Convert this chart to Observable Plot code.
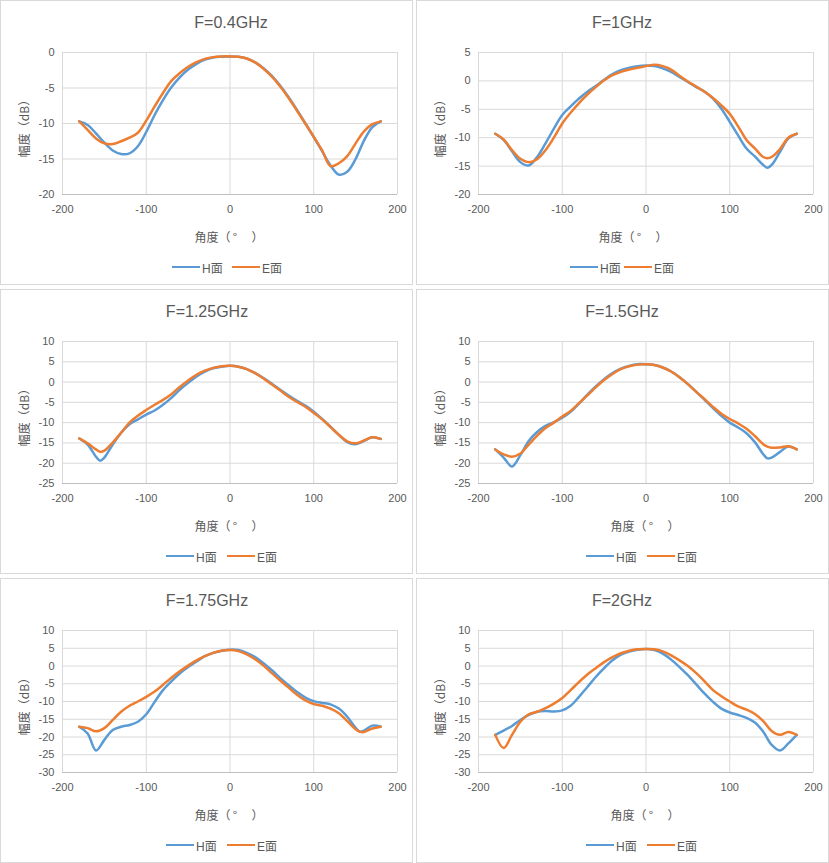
<!DOCTYPE html>
<html lang="zh-CN"><head><meta charset="utf-8">
<script src="https://cdn.jsdelivr.net/npm/d3@7"></script>
<script src="https://cdn.jsdelivr.net/npm/@observablehq/plot@0.6"></script>
<style>
html,body{margin:0;padding:0;background:#fff;}
body{width:829px;height:863px;position:relative;overflow:hidden;font-family:"Liberation Sans","Noto Sans CJK SC",sans-serif;color:#595959;}
.panel{position:absolute;width:413px;height:285px;box-sizing:border-box;border:1px solid #d9d9d9;background:#fff;}
.title{position:absolute;top:12px;font-size:16px;line-height:20px;white-space:nowrap;transform:translateX(-50%);}
.chart{position:absolute;left:-1px;top:39px;}
.leg{position:absolute;top:258px;height:16px;display:flex;align-items:center;font-size:12px;white-space:nowrap;}
.sw{display:inline-block;width:28px;height:2.5px;margin-right:2px;}
</style></head><body>
<script>
// ---- data ----
const titles = ["F=0.4GHz", "F=1GHz", "F=1.25GHz", "F=1.5GHz", "F=1.75GHz", "F=2GHz"];
const seriesNames = ["H面", "E面"];
const xLabel = "角度（\u2009°\u2003\u2009）";
const yLabel = "幅度（dB）";
const xTicks = [-200, -100, 0, 100, 200];
const yTicks04 = [0, -5, -10, -15, -20];
const yTicks1 = [5, 0, -5, -10, -15, -20];
const yTicks15 = [10, 5, 0, -5, -10, -15, -20, -25];
const yTicks2 = [10, 5, 0, -5, -10, -15, -20, -25, -30];

const angles04 = [-180,-170,-160,-150,-140,-130,-120,-110,-100,-90,-80,-70,-60,-50,-40,-30,-20,-10,0,10,20,30,40,50,60,70,80,90,100,110,120,130,140,150,160,170,180];
const h04 = [-9.7,-10.2,-11.4,-12.7,-13.8,-14.3,-14.2,-13.2,-11.2,-8.8,-6.7,-4.9,-3.5,-2.4,-1.6,-1.0,-0.7,-0.6,-0.55,-0.6,-0.85,-1.4,-2.2,-3.3,-4.7,-6.3,-8.1,-10.0,-11.9,-13.9,-15.9,-17.2,-16.8,-15.0,-12.4,-10.5,-9.7];
const e04 = [-9.7,-10.9,-12.1,-12.8,-12.9,-12.5,-12.0,-11.3,-9.6,-7.6,-5.7,-4.0,-2.9,-2.0,-1.35,-0.9,-0.65,-0.55,-0.55,-0.6,-0.85,-1.4,-2.3,-3.4,-4.8,-6.4,-8.2,-10.0,-11.9,-13.8,-16.0,-15.6,-14.6,-12.8,-11.1,-10.1,-9.7];

const angles1 = [-180,-170,-160,-150,-140,-130,-120,-110,-100,-90,-80,-70,-60,-50,-40,-30,-20,-10,0,10,20,30,40,50,60,70,80,90,100,110,120,130,140,145,150,160,170,180];
const h1 = [-9.3,-10.4,-12.4,-14.3,-14.9,-13.4,-11.0,-8.4,-6.0,-4.5,-3.1,-1.9,-0.9,0.2,1.2,1.9,2.3,2.6,2.7,2.6,2.2,1.6,0.7,-0.2,-1.1,-1.9,-3.1,-4.9,-7.2,-9.6,-11.9,-13.3,-14.8,-15.3,-14.8,-12.5,-10.1,-9.3];
const e1 = [-9.3,-10.3,-12.2,-13.7,-14.3,-13.8,-12.2,-10.0,-7.5,-5.6,-3.9,-2.4,-1.1,0.1,1.0,1.6,2.0,2.3,2.6,2.85,2.6,2.0,0.9,-0.1,-1.0,-1.9,-3.0,-4.3,-5.8,-8.0,-10.4,-11.9,-13.4,-13.6,-13.4,-12.0,-10.0,-9.3];

const angles125 = [-180,-170,-160,-155,-150,-140,-130,-120,-110,-100,-90,-80,-70,-60,-50,-40,-30,-20,-10,0,10,20,30,40,50,60,70,80,90,100,110,120,130,140,150,160,170,180];
const h125 = [-13.9,-15.4,-18.4,-19.4,-18.6,-15.4,-12.5,-10.4,-9.2,-8.0,-7.0,-5.6,-3.9,-1.9,-0.2,1.4,2.6,3.4,3.8,4.0,3.8,3.2,2.2,1.0,-0.4,-1.9,-3.3,-4.6,-5.8,-7.3,-9.1,-11.0,-13.0,-14.8,-15.3,-14.5,-13.6,-14.0];
const e125 = [-13.9,-15.1,-16.6,-17.2,-16.9,-14.9,-12.5,-10.0,-8.3,-6.9,-5.6,-4.4,-3.0,-1.2,0.4,1.8,2.8,3.5,3.9,4.0,3.8,3.2,2.2,0.9,-0.6,-2.1,-3.6,-4.9,-6.1,-7.6,-9.2,-11.1,-13.0,-14.6,-15.1,-14.4,-13.6,-14.0];

const angles15 = [-180,-170,-160,-150,-140,-130,-120,-110,-100,-90,-80,-70,-60,-50,-40,-30,-20,-10,0,10,20,30,40,50,60,70,80,90,100,110,120,130,140,145,150,160,170,180];
const h15 = [-16.6,-18.6,-20.8,-18.0,-14.5,-12.3,-10.8,-9.9,-8.8,-7.3,-5.3,-3.1,-1.1,0.7,2.2,3.3,4.0,4.4,4.4,4.2,3.6,2.6,1.2,-0.5,-2.4,-4.4,-6.4,-8.3,-10.0,-11.2,-12.6,-14.8,-17.8,-18.8,-18.6,-17.2,-15.9,-16.6];
const e15 = [-16.6,-17.8,-18.4,-17.6,-15.4,-13.2,-11.3,-10.0,-8.5,-7.1,-5.2,-3.3,-1.3,0.5,2.0,3.2,3.9,4.3,4.4,4.2,3.6,2.6,1.2,-0.5,-2.4,-4.2,-6.1,-7.8,-9.1,-10.2,-11.5,-13.3,-15.3,-15.9,-16.2,-16.1,-15.8,-16.6];

const angles175 = [-180,-170,-160,-150,-140,-130,-120,-110,-100,-90,-80,-70,-60,-50,-40,-30,-20,-10,0,10,20,30,40,50,60,70,80,90,100,110,120,130,140,150,155,160,170,180];
const h175 = [-17.1,-19.0,-23.8,-20.8,-18.0,-17.1,-16.6,-15.7,-13.6,-10.1,-6.8,-4.3,-2.1,-0.3,1.3,2.8,3.7,4.3,4.6,4.5,3.7,2.5,0.8,-1.2,-3.4,-5.4,-7.3,-8.9,-9.9,-10.4,-10.8,-12.0,-14.3,-17.4,-18.5,-18.2,-16.8,-17.1];
const e175 = [-17.1,-17.5,-18.4,-17.5,-15.2,-12.9,-11.2,-10.0,-8.7,-7.2,-5.3,-3.3,-1.5,0.1,1.6,2.8,3.7,4.3,4.5,4.2,3.3,1.9,0.1,-2.0,-4.1,-6.1,-8.1,-9.7,-10.7,-11.2,-12.0,-13.3,-15.5,-17.8,-18.5,-18.6,-17.6,-17.1];

const angles2 = [-180,-170,-160,-150,-140,-130,-120,-110,-100,-90,-80,-70,-60,-50,-40,-30,-20,-10,0,10,20,30,40,50,60,70,80,90,100,110,120,130,140,150,160,170,180];
const h2 = [-19.4,-18.2,-16.9,-15.2,-13.8,-12.9,-12.7,-12.8,-12.5,-11.2,-8.7,-5.9,-3.1,-0.6,1.6,3.2,4.1,4.6,4.8,4.5,3.5,1.8,-0.3,-2.6,-5.2,-7.8,-10.1,-12.0,-13.1,-13.8,-14.6,-15.9,-18.5,-22.2,-23.8,-21.8,-19.4];
const e2 = [-19.4,-23.1,-19.4,-15.7,-13.6,-12.9,-11.9,-10.6,-9.0,-6.8,-4.5,-2.4,-0.6,1.1,2.5,3.6,4.3,4.7,4.8,4.7,4.1,3.0,1.6,0.0,-2.0,-4.3,-6.8,-8.5,-10.0,-11.4,-12.3,-13.5,-15.5,-18.3,-19.4,-18.6,-19.4];

// ---- layout / style (not data) ----
const panelLeft = [0, 416, 0, 416, 0, 416];
const panelTop = [0, 0, 289, 289, 578, 578];
const titleX = [231, 206, 207, 206, 207, 206];
const xLabelDx = [-1, -13, -1, -1, -1, -1];
const legendLeft = [171, 153, 165, 169, 165, 169];
const legendStep = [60, 54, 61, 61, 61, 61];
const colors = ["#5B9BD5", "#ED7D31"];
const FONT = '"Liberation Sans","Noto Sans CJK SC",sans-serif';
const CJK = '"Noto Sans CJK SC",sans-serif';
const fmt = d => String(d);

const panels = [
  {angles: angles04, h: h04, e: e04, ticks: yTicks04},
  {angles: angles1, h: h1, e: e1, ticks: yTicks1},
  {angles: angles125, h: h125, e: e125, ticks: yTicks15},
  {angles: angles15, h: h15, e: e15, ticks: yTicks15},
  {angles: angles175, h: h175, e: e175, ticks: yTicks2},
  {angles: angles2, h: h2, e: e2, ticks: yTicks2}
];

panels.forEach((p, i) => {
  const div = document.createElement("div");
  div.className = "panel";
  div.style.left = panelLeft[i] + "px";
  div.style.top = panelTop[i] + "px";
  document.body.appendChild(div);

  const t = document.createElement("div");
  t.className = "title";
  t.style.left = (titleX[i] - 1) + "px";
  t.textContent = titles[i];
  div.appendChild(t);

  const yMin = d3.min(p.ticks), yMax = d3.max(p.ticks);
  const rowsH = p.angles.map((a, k) => ({a, v: p.h[k]}));
  const rowsE = p.angles.map((a, k) => ({a, v: p.e[k]}));

  const chart = Plot.plot({
    width: 413, height: 211,
    marginLeft: 62, marginRight: 16, marginTop: 12, marginBottom: 57,
    style: {fontFamily: FONT, fontSize: "11px", color: "#595959", background: "transparent", maxWidth: "none", overflow: "visible"},
    x: {domain: [-200, 200]},
    y: {domain: [yMin, yMax]},
    marks: [
      Plot.gridX(xTicks, {stroke: "#d9d9d9", strokeOpacity: 1}),
      Plot.gridY(p.ticks, {stroke: "#d9d9d9", strokeOpacity: 1}),
      Plot.ruleY([yMin], {stroke: "#bfbfbf"}),
      Plot.axisX(xTicks, {tickSize: 0, tickPadding: 11, label: null, fontSize: 11, fill: "#595959", tickFormat: fmt}),
      Plot.axisY(p.ticks, {tickSize: 0, tickPadding: 8, label: null, fontSize: 11, fill: "#595959", tickFormat: fmt}),
      Plot.line(rowsH, {x: "a", y: "v", stroke: colors[0], strokeWidth: 2.5, curve: "catmull-rom"}),
      Plot.line(rowsE, {x: "a", y: "v", stroke: colors[1], strokeWidth: 2.5, curve: "catmull-rom"}),
      Plot.text([xLabel], {text: d => d, frameAnchor: "bottom", dy: 44, dx: xLabelDx[i], lineAnchor: "middle", textAnchor: "middle", fontSize: 12, fontFamily: CJK, fill: "#595959"}),
      Plot.text([yLabel], {text: d => d, frameAnchor: "left", dx: -37, dy: 2, rotate: -90, lineAnchor: "middle", textAnchor: "middle", fontSize: 12, fontFamily: CJK, fill: "#595959"})
    ]
  });
  chart.classList.add("chart");
  div.appendChild(chart);

  seriesNames.forEach((name, s) => {
    const lg = document.createElement("div");
    lg.className = "leg";
    lg.style.left = (legendLeft[i] + s * legendStep[i]) + "px";
    const sw = document.createElement("span");
    sw.className = "sw";
    sw.style.background = colors[s];
    const tx = document.createElement("span");
    tx.textContent = name;
    lg.appendChild(sw);
    lg.appendChild(tx);
    div.appendChild(lg);
  });
});
</script>
</body></html>
